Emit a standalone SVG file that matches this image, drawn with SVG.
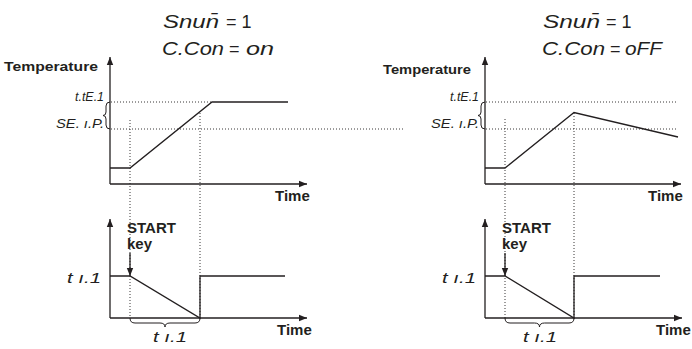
<svg xmlns="http://www.w3.org/2000/svg" width="692" height="349" viewBox="0 0 692 349">
<defs>
<marker id="ah" viewBox="0 0 10 10" refX="10" refY="5" markerWidth="8" markerHeight="8" markerUnits="userSpaceOnUse" orient="auto"><path d="M0,1 L10,5 L0,9 z" fill="#231f20"/></marker>
<style>
.ax{stroke:#231f20;stroke-width:1.3;fill:none}
.cv{stroke:#231f20;stroke-width:1.3;fill:none}
.dot{stroke:#231f20;stroke-width:0.9;stroke-dasharray:1 2;fill:none}
.br{stroke:#231f20;stroke-width:1;fill:none}
.lb{font-family:"Liberation Sans",Arial,sans-serif;font-weight:bold;fill:#231f20}
.sg{font-family:"Liberation Sans",Arial,sans-serif;font-style:italic;fill:#231f20}
.nm{font-family:"Liberation Sans",Arial,sans-serif;fill:#231f20}
</style>
</defs>
<rect width="692" height="349" fill="#fff"/>

<g id="left-panel">
<g id="left-title">
<text class="sg" x="163" y="28" font-size="19" textLength="56" lengthAdjust="spacingAndGlyphs">Snun̄</text>
<text class="nm" x="226" y="28" font-size="18">= 1</text>
<text class="sg" x="162" y="55" font-size="19" textLength="62" lengthAdjust="spacingAndGlyphs">C.Con</text>
<text class="nm" x="229" y="55" font-size="18">=</text>
<text class="sg" x="246" y="55" font-size="19" textLength="28" lengthAdjust="spacingAndGlyphs">on</text>
</g>
<g id="left-upper-labels">
<text class="lb" x="4" y="71" font-size="13" textLength="94" lengthAdjust="spacingAndGlyphs">Temperature</text>
<text class="sg" x="75" y="101" font-size="13" textLength="29" lengthAdjust="spacingAndGlyphs">t.tE.1</text>
<text class="sg" x="56" y="128" font-size="13" textLength="48" lengthAdjust="spacingAndGlyphs">SE. ı.P.</text>
<text class="lb" x="275" y="201" font-size="15">Time</text>
</g>
<g id="left-lower-labels">
<text class="lb" x="127" y="233" font-size="15">START</text>
<text class="lb" x="127" y="249" font-size="15">key</text>
<text class="sg" x="67" y="283" font-size="15" textLength="34" lengthAdjust="spacingAndGlyphs">t ı.1</text>
<text class="sg" x="153" y="342" font-size="15" textLength="34" lengthAdjust="spacingAndGlyphs">t ı.1</text>
<text class="lb" x="277" y="335" font-size="15">Time</text>
</g>
</g>

<g id="right-panel">
<g id="right-title">
<text class="sg" x="543" y="28" font-size="19" textLength="57" lengthAdjust="spacingAndGlyphs">Snun̄</text>
<text class="nm" x="606" y="28" font-size="18">= 1</text>
<text class="sg" x="542" y="55" font-size="19" textLength="63" lengthAdjust="spacingAndGlyphs">C.Con</text>
<text class="nm" x="610" y="55" font-size="18">=</text>
<text class="sg" x="625" y="55" font-size="19" textLength="37" lengthAdjust="spacingAndGlyphs">oFF</text>
</g>
<g id="right-upper-labels">
<text class="lb" x="383" y="74" font-size="13" textLength="88" lengthAdjust="spacingAndGlyphs">Temperature</text>
<text class="sg" x="450" y="101" font-size="13" textLength="29" lengthAdjust="spacingAndGlyphs">t.tE.1</text>
<text class="sg" x="431" y="128" font-size="13" textLength="48" lengthAdjust="spacingAndGlyphs">SE. ı.P.</text>
<text class="lb" x="648" y="201" font-size="15">Time</text>
</g>
<g id="right-lower-labels">
<text class="lb" x="502" y="233" font-size="15">START</text>
<text class="lb" x="502" y="249" font-size="15">key</text>
<text class="sg" x="442" y="283" font-size="15" textLength="34" lengthAdjust="spacingAndGlyphs">t ı.1</text>
<text class="sg" x="523" y="342" font-size="15" textLength="34" lengthAdjust="spacingAndGlyphs">t ı.1</text>
<text class="lb" x="656" y="335" font-size="15">Time</text>
</g>
</g>

<g id="connectors">
<path class="ax" d="M110,184 V57" marker-end="url(#ah)"/>
<path class="ax" d="M110,184 H307" marker-end="url(#ah)"/>
<path class="ax" d="M110,318 V219" marker-end="url(#ah)"/>
<path class="ax" d="M110,318 H307" marker-end="url(#ah)"/>
<path class="dot" d="M111,102 H212"/>
<path class="dot" d="M111,129 H405"/>
<path class="dot" d="M130,120 V318"/>
<path class="dot" d="M200,113 V318"/>
<path class="cv" d="M110,168 H130 L212,102 H288"/>
<path class="cv" d="M110,276 H130 L200,318 V276 H285"/>
<path class="ax" d="M130,253 V276" marker-end="url(#ah)"/>
<path class="br" d="M110,102 q-4,0 -4,4 v6 q0,3.5 -3,3.5 q3,0 3,3.5 v6 q0,4 4,4"/>
<path class="br" d="M130,318 q0,5 5,5 h25 q5,0 5,4 q0,-4 5,-4 h25 q5,0 5,-5"/>

<path class="ax" d="M485,184 V57" marker-end="url(#ah)"/>
<path class="ax" d="M485,184 H681" marker-end="url(#ah)"/>
<path class="ax" d="M485,318 V219" marker-end="url(#ah)"/>
<path class="ax" d="M485,318 H682" marker-end="url(#ah)"/>
<path class="dot" d="M486,102 H678"/>
<path class="dot" d="M486,129 H678"/>
<path class="dot" d="M505,119 V318"/>
<path class="dot" d="M574,113 V318"/>
<path class="cv" d="M485,168 H505 L574,112.5 L678,137"/>
<path class="cv" d="M485,276 H505 L574,318 V276 H660"/>
<path class="ax" d="M505,253 V276" marker-end="url(#ah)"/>
<path class="br" d="M485,102 q-4,0 -4,4 v6 q0,3.5 -3,3.5 q3,0 3,3.5 v6 q0,4 4,4"/>
<path class="br" d="M505,318 q0,5 5,5 h24.5 q5,0 5,4 q0,-4 5,-4 h24.5 q5,0 5,-5"/>
</g>
</svg>
